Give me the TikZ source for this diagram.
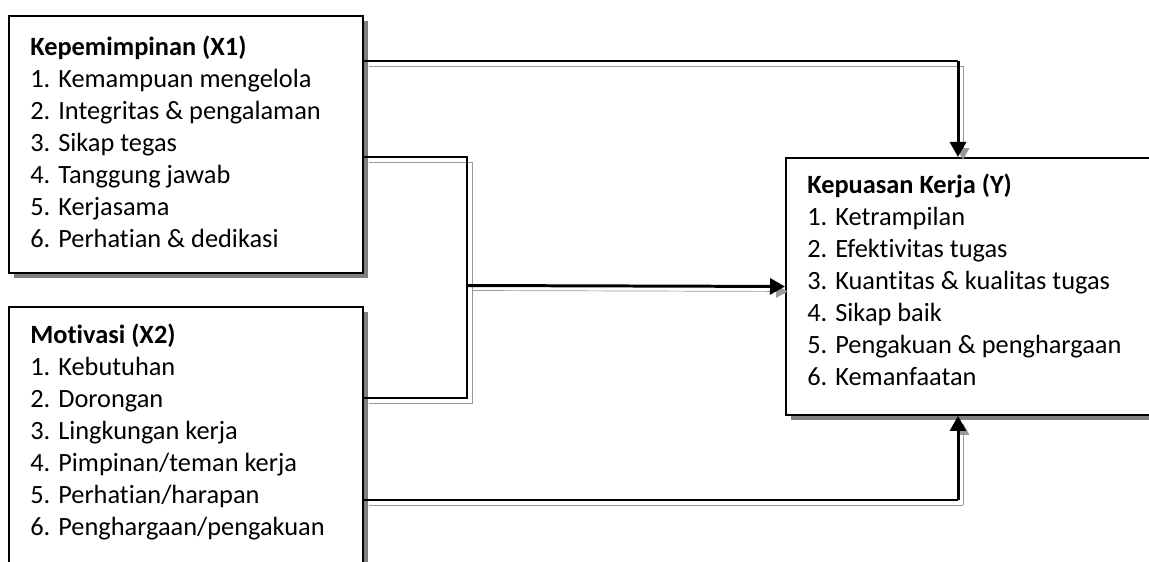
\documentclass[tikz,border=0pt]{standalone}
\usepackage{fontspec}
\setmainfont{Carlito}[Ligatures=NoCommon]
\usepackage{tikz}
\usetikzlibrary{arrows.meta,shadows,calc,positioning}

\tikzset{
  box/.style={draw, line width=1.1pt, fill=white, anchor=north west,
    copy shadow={shadow xshift=0.1cm, shadow yshift=-0.1cm, draw=none, fill=gray}},
  list/.style={align=left, anchor=base west, inner sep=0pt,
    font=\fontsize{15}{18.2}\selectfont},
  link/.style={line width=0.8pt,
    preaction={draw=gray!80, transform canvas={xshift=0.1cm, yshift=-0.1cm}}},
  mainlink/.style={link, line width=1.7pt, -{Triangle[length=0.3cm,width=0.32cm]}}
}

\begin{document}
\begin{tikzpicture}
\clip (0,0) rectangle (22.98,11.22);

% boxes
\node[box, minimum width=7.08cm, minimum height=5.14cm] (x1) at (0.16,10.92) {};
\node[box, minimum width=7.08cm, minimum height=6.2cm] (x2) at (0.16,5.1) {};
\node[box, minimum width=8.6cm, minimum height=5.14cm] (y) at (15.7,8.08) {};

% texts (anchored on the baseline of the last line)
\node[list] (x1txt) at ($(x1.north west)+(0.44,-4.64)$) {\textbf{Kepemimpinan (X1)}\\
1. Kemampuan mengelola\\
2. Integritas \& pengalaman\\
3. Sikap tegas\\
4. Tanggung jawab\\
5. Kerjasama\\
6. Perhatian \& dedikasi};

\node[list] (x2txt) at ($(x2.north west)+(0.44,-4.58)$) {\textbf{Motivasi (X2)}\\
1. Kebutuhan\\
2. Dorongan\\
3. Lingkungan kerja\\
4. Pimpinan/teman kerja\\
5. Perhatian/harapan\\
6. Penghargaan/pengakuan};

\node[list] (ytxt) at ($(y.north west)+(0.44,-4.56)$) {\textbf{Kepuasan Kerja (Y)}\\
1. Ketrampilan\\
2. Efektivitas tugas\\
3. Kuantitas \& kualitas tugas\\
4. Sikap baik\\
5. Pengakuan \& penghargaan\\
6. Kemanfaatan};

% corners of the connectors
\coordinate (c1) at (19.16,10.0);
\coordinate (jn) at (9.34,5.51);
\coordinate (c5) at (19.16,1.22);

% X1 -> Y (top)
\draw[link] (x1.east |- c1) -- (c1);
\draw[mainlink] (c1) -- (c1 |- y.north);

% X1 and X2 -> Y (middle)
\draw[link] (x1.east |- 0,8.08) -| (jn);
\draw[link] (x2.east |- 0,3.26) -| (jn);
\draw[mainlink] (jn) -- (y.west);

% X2 -> Y (bottom)
\draw[link] (x2.east |- c5) -- (c5);
\draw[mainlink] (c5) -- (c5 |- y.south);
\end{tikzpicture}
\end{document}
